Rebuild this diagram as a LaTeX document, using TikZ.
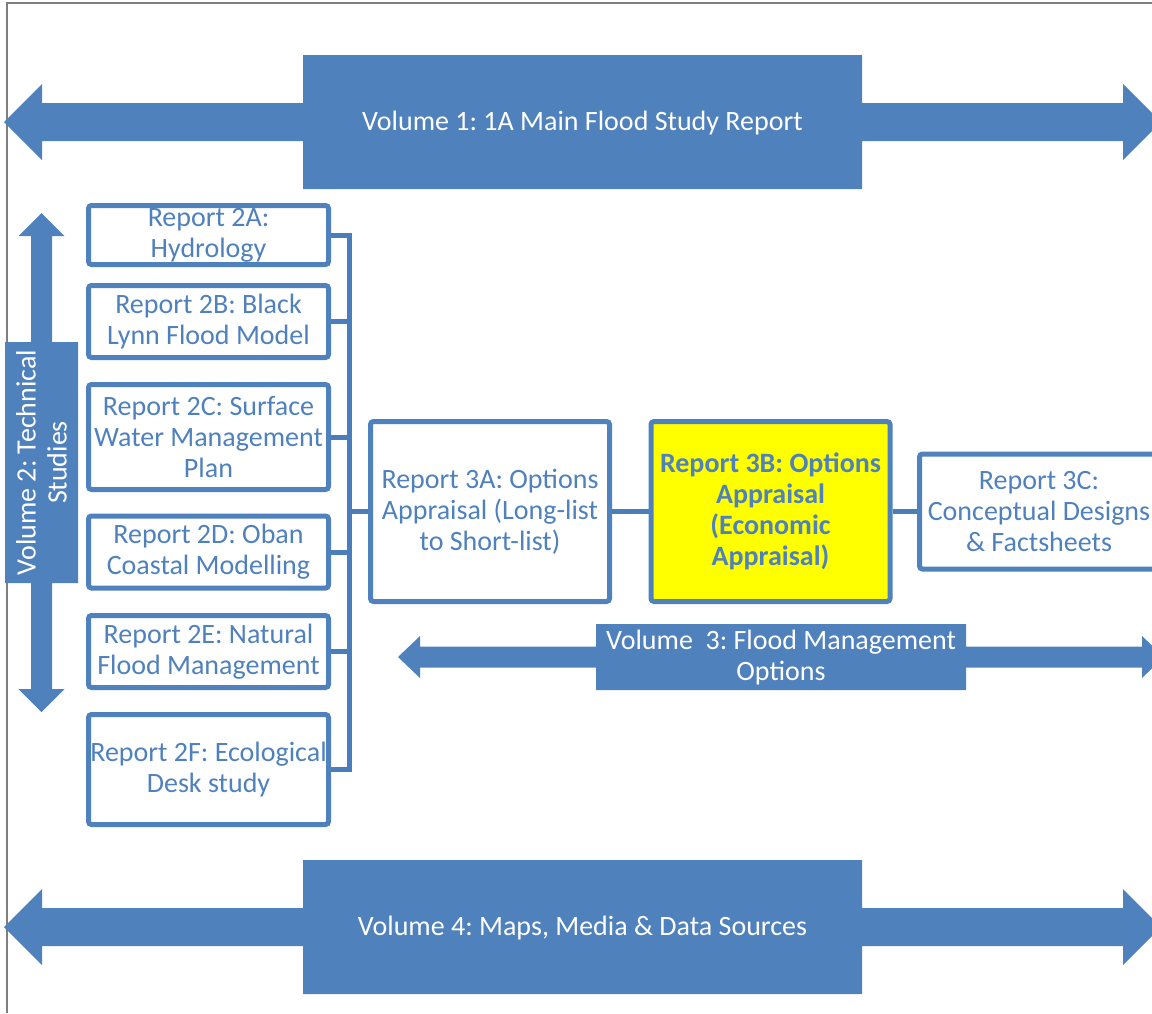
\documentclass[tikz,border=0pt]{standalone}
\usepackage{fontspec}
\setmainfont{Carlito}
\usetikzlibrary{calc}
\frenchspacing
\definecolor{volblue}{HTML}{4F81BD}
\definecolor{linkblue}{HTML}{4A7EBB}
\definecolor{framegray}{HTML}{7F7F7F}
\definecolor{hiyellow}{HTML}{FFFF00}
% double arrow callout: [opts](cx,cy)(box half length:box half width:shaft half:head half:tip distance:head length)
\def\volarrow[#1](#2,#3)(#4:#5:#6:#7:#8:#9){\fill[volblue,#1] ({#2-#8},#3) -- ({#2-#8+#9},{#3-#7}) -- ({#2-#8+#9},{#3-#6}) -- ({#2-#4},{#3-#6}) -- ({#2-#4},{#3-#5}) -- ({#2+#4},{#3-#5}) -- ({#2+#4},{#3-#6}) -- ({#2+#8-#9},{#3-#6}) -- ({#2+#8-#9},{#3-#7}) -- ({#2+#8},#3) -- ({#2+#8-#9},{#3+#7}) -- ({#2+#8-#9},{#3+#6}) -- ({#2+#4},{#3+#6}) -- ({#2+#4},{#3+#5}) -- ({#2-#4},{#3+#5}) -- ({#2-#4},{#3+#6}) -- ({#2-#8+#9},{#3+#6}) -- ({#2-#8+#9},{#3+#7}) -- cycle;}
\tikzset{
	report/.style={draw=volblue, line width=2.5pt, rounded corners=1.5pt, fill=white, text=volblue, align=center, inner sep=0pt, minimum width=120pt, font=\fontsize{14}{15.5}\selectfont\frenchspacing},
	picked/.style={report, fill=hiyellow, font=\fontsize{14}{15.5}\selectfont\frenchspacing\bfseries},
	voltext/.style={text=white, align=center, inner sep=0pt, font=\fontsize{14}{15.5}\selectfont\frenchspacing},
	link/.style={draw=linkblue, line width=2.5pt}
}

\begin{document}
\begin{tikzpicture}[x=0.5pt, y=-0.5pt]
		%%%%% START %%%%%
		\useasboundingbox (0,0) rectangle (1152,1013);
		\draw[framegray, line width=1pt] (7,1013) -- (7,3) -- (1152,3);
		
		% volumes
		\volarrow[](582.5,122)(279.5:67:19:38:578.5:38)
		\volarrow[](582.5,927)(279.5:67:19:38:578.5:38)
		\volarrow[](781,657)(185:33:10.5:21:383:22)
		\volarrow[rotate around={90:(41.5,462.5)}](41.5,462.5)(120.5:36.5:10.5:23:249.5:23)
		
		\node[voltext] (vol1) at (582.5,123) {Volume 1: 1A Main Flood Study Report};
		\node[voltext, rotate=90] (vol2) at (41.5,462.5) {Volume 2: Technical\\Studies};
		\node[voltext] (vol3) at (781,658) {Volume~~3: Flood Management\\Options};
		\node[voltext] (vol4) at (582.5,928) {Volume 4: Maps, Media \& Data Sources};
		
		% technical studies
		\node[report, minimum height=29.5pt] (r2a) at (208.5,235) {Report 2A:\\Hydrology};
		\node[report, minimum height=36pt] (r2b) at (208.5,321.5) {Report 2B: Black\\Lynn Flood Model};
		\node[report, minimum height=52.5pt] (r2c) at (208.5,437) {Report 2C: Surface\\Water Management\\Plan};
		\node[report, minimum height=36pt] (r2d) at (208.5,552) {Report 2D: Oban\\Coastal Modelling};
		\node[report, minimum height=36pt] (r2e) at (208.5,651.5) {Report 2E: Natural\\Flood Management};
		\node[report, minimum height=55pt] (r2f) at (208.5,769.5) {Report 2F: Ecological\\Desk study};
		
		% options
		\node[report, minimum width=119.5pt, minimum height=90pt] (r3a) at (490,511.5) {Report 3A: Options\\Appraisal (Long-list\\to Short-list)};
		\node[picked, minimum width=119.5pt, minimum height=90pt] (r3b) at (770.5,511.5) {Report 3B: Options\\Appraisal\\(Economic\\Appraisal)};
		\node[report, minimum width=119.5pt, minimum height=57.5pt] (r3c) at (1039,511.5) {Report 3C:\\Conceptual Designs\\\& Factsheets};
		
		% links
		\coordinate (spine) at (349,0);
		\draw[link] (r2a.east) -| (spine |- r2f.east) -- (r2f.east);
		\foreach \n in {r2b,r2c,r2d,r2e} \draw[link] (\n.east) -- (spine |- \n.east);
		\draw[link] (spine |- r3a.west) -- (r3a.west);
		\draw[link] (r3a) -- (r3b);
		\draw[link] (r3b) -- (r3c);
		%%%%% END %%%%%
\end{tikzpicture}
\end{document}
